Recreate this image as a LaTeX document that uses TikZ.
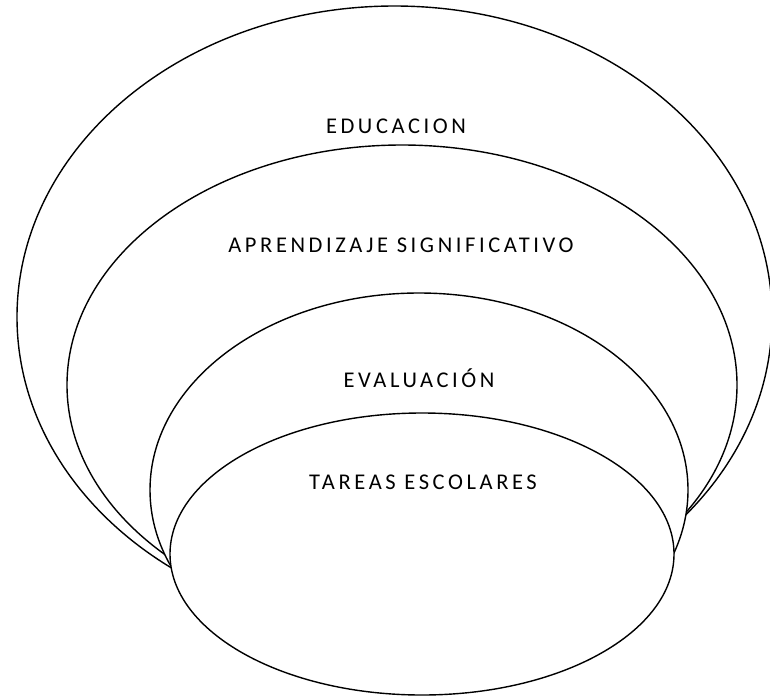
\documentclass[tikz,border=0pt]{standalone}
\usepackage{fontspec}
\setmainfont{Carlito}
\newfontfamily\spacedfont[LetterSpace=16]{Carlito}
\usetikzlibrary{shapes.geometric}
\tikzset{
  ring/.style={draw=black, fill=white, line width=1.4pt, ellipse, inner sep=0pt, outer sep=0pt},
  lbl/.style={anchor=base, inner sep=0pt, font=\spacedfont\fontsize{22.5}{25}\selectfont, text=black}
}
\begin{document}
\begin{tikzpicture}[x=1pt, y=-1pt]
\useasboundingbox[fill=white] (0,0) rectangle (770,699);
\node[ring, minimum width=755pt, minimum height=622pt] (educ) at (394.5,317) {};
\node[ring, minimum width=670pt, minimum height=480pt] (apren) at (402,385) {};
\node[ring, minimum width=538pt, minimum height=394pt] (eval) at (419,490) {};
\node[ring, minimum width=504pt, minimum height=282pt] (tareas) at (422,554) {};
\node[lbl] (t1) at (396,133) {EDUCACION};
\node[lbl] (t2) at (401,252) {APRENDIZAJE SIGNIFICATIVO};
\node[lbl] (t3) at (419,387) {EVALUACIÓN};
\node[lbl] (t4) at (423,489) {TAREAS ESCOLARES};
\end{tikzpicture}
\end{document}
